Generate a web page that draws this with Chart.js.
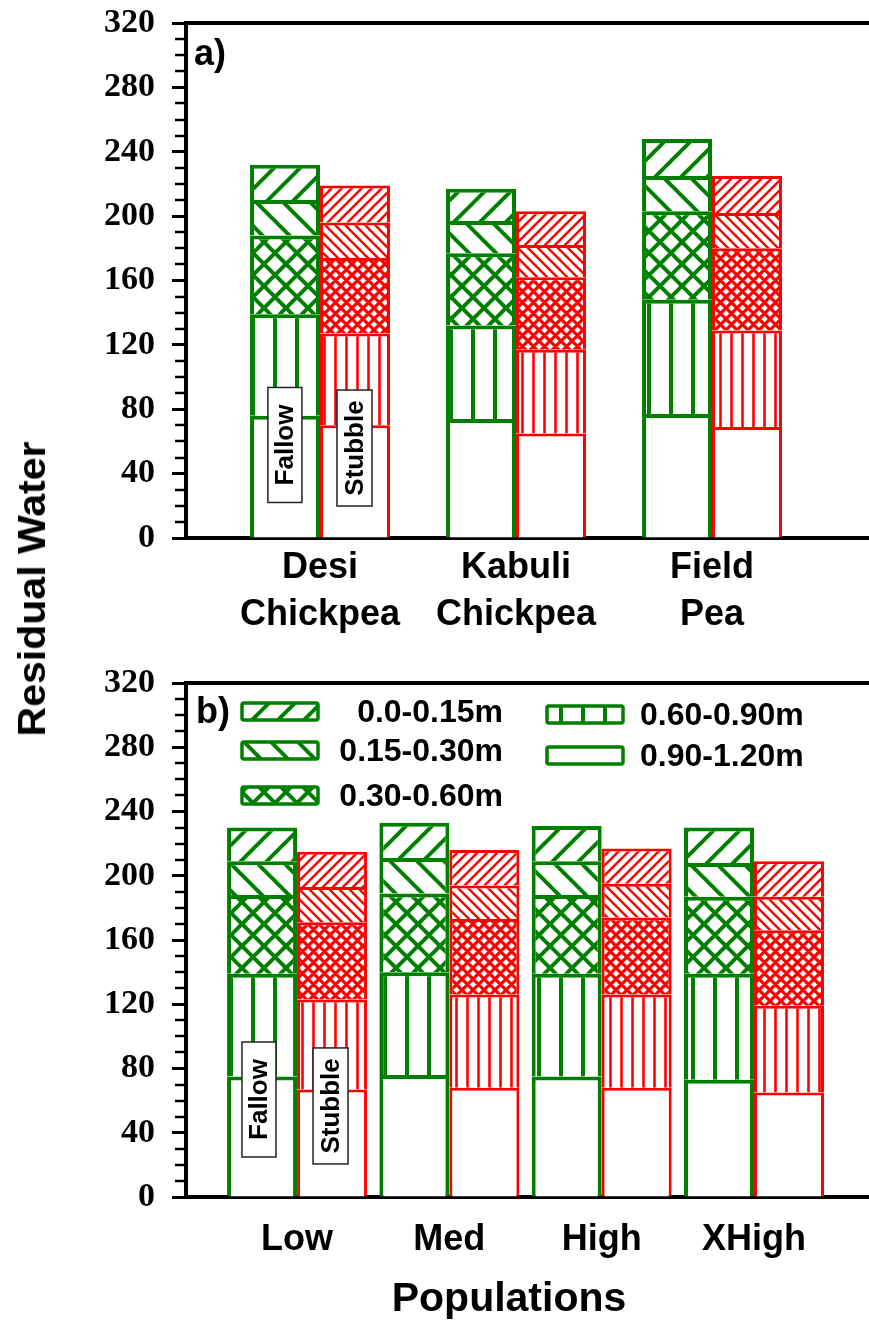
<!DOCTYPE html>
<html><head><meta charset="utf-8">
<script src="https://cdn.jsdelivr.net/npm/chart.js@4.4.1/dist/chart.umd.min.js"></script>
<style>
html,body{margin:0;padding:0;background:#fff;}
#wrap{position:relative;width:869px;height:1323px;overflow:hidden;background:#fff;}
#ca{position:absolute;left:0;top:0;}
#cb{position:absolute;left:0;top:660px;}
#ytitle{position:absolute;left:32px;top:589px;transform:translate(-50%,-50%) rotate(-90deg) scaleX(1.08);
  font:bold 38px "Liberation Sans", Arial, sans-serif;line-height:1;white-space:nowrap;color:#000;}
</style></head>
<body><div id="wrap">
<canvas id="ca" width="869" height="660"></canvas>
<canvas id="cb" width="869" height="663"></canvas>
<div id="ytitle">Residual Water</div>
</div>
<script>
// ---------- data ----------
const layerNames = ['0.90-1.20m','0.60-0.90m','0.30-0.60m','0.15-0.30m','0.0-0.15m']; // bottom -> top
const treatments = ['Fallow','Stubble'];
const cropNames = [['Desi','Chickpea'],['Kabuli','Chickpea'],['Field','Pea']];
const popNames = ['Low','Med','High','XHigh'];
const yTickValues = [0,40,80,120,160,200,240,280,320];
// residual water per soil layer (bottom -> top), one row per category
const cropFallow  = [[76,63,49,22,22],[74,58,45,20,20],[77,71,55,22,23]];
const cropStubble = [[70,57,47,22,23],[65,52,45,20,21],[69,60,51,22,23]];
const popFallow   = [[75,64,49,21,21],[76,64,49,22,22],[75,64,49,21,22],[73,66,48,21,22]];
const popStubble  = [[67,56,48,22,22],[68,58,47,21,22],[68,58,48,21,22],[65,54,47,21,22]];

// ---------- styles ----------
const SANS = '"Liberation Sans", Arial, sans-serif';
const SERIF = '"Liberation Serif", "Times New Roman", serif';
const layerKinds = ['plain','vert','cross','back','fwd'];
function makePattern(ctx, kind, color, s, lw) {
  if (kind === 'plain') return '#ffffff';
  const c = document.createElement('canvas'); c.width = s; c.height = s;
  const g = c.getContext('2d');
  g.fillStyle = '#fff'; g.fillRect(0, 0, s, s);
  g.strokeStyle = color; g.lineWidth = lw;
  g.beginPath();
  if (kind === 'fwd' || kind === 'cross') for (let k = -1; k <= 1; k++) { g.moveTo(k*s - 2, s + 2); g.lineTo(k*s + s + 2, -2); }
  if (kind === 'back' || kind === 'cross') for (let k = -1; k <= 1; k++) { g.moveTo(k*s - 2, -2); g.lineTo(k*s + s + 2, s + 2); }
  if (kind === 'vert') { g.moveTo(s/2, -1); g.lineTo(s/2, s + 1); }
  g.stroke();
  return ctx.createPattern(c, 'repeat');
}
function styleSet(ctx, color, bw, spec) {
  return { color, bw, patterns: layerKinds.map((k, i) => makePattern(ctx, k, color, spec[i][0], spec[i][1])) };
}
const greenSpec = [[1,1],[22,4],[22,4],[27,4],[26,4]];
const redSpec   = [[1,1],[11,2.6],[11,3.2],[10,2.4],[10,2.4]];

function buildDatasets(ctx, fallow, stubble) {
  const green = styleSet(ctx, '#008000', 4, greenSpec);
  const red = styleSet(ctx, '#ff0000', 3, redSpec);
  const out = [];
  [fallow, stubble].forEach((tbl, t) => {
    const st = t === 0 ? green : red;
    layerNames.forEach((name, li) => {
      out.push({
        label: name, stack: treatments[t], treatment: treatments[t], layerIndex: li,
        data: tbl.map((row, ci) => ({ x: ci + 1, y: row[li] })),
        backgroundColor: st.patterns[li], borderColor: st.color,
        borderWidth: st.bw, borderSkipped: 'start'
      });
    });
  });
  return out;
}

// ---------- decoration plugin ----------
const decor = {
  id: 'decor',
  afterDraw(chart, args, o) {
    const { ctx, chartArea: a, scales: { x, y } } = chart;
    ctx.save();
    ctx.strokeStyle = '#000';
    ctx.lineWidth = 4;
    ctx.beginPath(); ctx.moveTo(a.left - 2, a.top); ctx.lineTo(a.right, a.top); ctx.stroke();
    // minor ticks
    ctx.lineWidth = 2.5;
    const step = (yTickValues[1] - yTickValues[0]) / 4;
    for (let v = y.min; v <= y.max; v += step) {
      if (yTickValues.includes(v)) continue;
      const py = Math.round(y.getPixelForValue(v));
      ctx.beginPath(); ctx.moveTo(a.left - 11, py); ctx.lineTo(a.left, py); ctx.stroke();
    }
    // panel letter
    ctx.fillStyle = '#000';
    ctx.font = 'bold 36px ' + SANS;
    ctx.textAlign = 'left'; ctx.textBaseline = 'middle';
    ctx.fillText(o.panel, o.panelX, o.panelY);
    // treatment tags
    (o.tags || []).forEach(t => {
      const cx = x.getPixelForValue(t.x), cy = y.getPixelForValue(t.y);
      ctx.fillStyle = '#fff'; ctx.strokeStyle = '#222'; ctx.lineWidth = 1.5;
      ctx.fillRect(cx - t.w/2, cy - t.h/2, t.w, t.h);
      ctx.strokeRect(cx - t.w/2, cy - t.h/2, t.w, t.h);
      ctx.save(); ctx.translate(cx, cy); ctx.rotate(-Math.PI/2);
      ctx.fillStyle = '#000'; ctx.font = 'bold 26px ' + SANS;
      ctx.textAlign = 'center'; ctx.textBaseline = 'middle';
      ctx.fillText(t.text, 0, 1);
      ctx.restore();
    });
    // legend
    if (o.legend) {
      const fallowSets = chart.data.datasets.filter(d => d.treatment === 'Fallow');
      o.legend.forEach(it => {
        const ds = fallowSets.find(d => d.label === it.label);
        ctx.save();
        ctx.beginPath(); ctx.roundRect(it.sx, it.sy, 76, 17, 2);
        ctx.fillStyle = ds.backgroundColor; ctx.fill();
        ctx.strokeStyle = ds.borderColor; ctx.lineWidth = 3.5; ctx.stroke();
        ctx.restore();
        ctx.fillStyle = '#000'; ctx.font = 'bold 32px ' + SANS;
        ctx.textAlign = it.align; ctx.textBaseline = 'middle';
        ctx.fillText(ds.label, it.tx, it.sy + 10);
      });
    }
    if (o.xTitle) {
      ctx.fillStyle = '#000'; ctx.font = 'bold 41px ' + SANS;
      ctx.textAlign = 'center'; ctx.textBaseline = 'middle';
      ctx.fillText(o.xTitle, o.xTitleX, o.xTitleY);
    }
    ctx.restore();
  }
};

function makeChart(canvas, cats, fallow, stubble, xr, catPct, xAxisH, labelPad, decorOpts) {
  const ctx = canvas.getContext('2d');
  return new Chart(ctx, {
    type: 'bar',
    data: { datasets: buildDatasets(ctx, fallow, stubble) },
    options: {
      responsive: false, animation: false, devicePixelRatio: 1,
      categoryPercentage: catPct, barPercentage: 1,
      layout: { padding: { top: 23, right: 0, bottom: 0, left: 0 } },
      plugins: { legend: { display: false }, tooltip: { enabled: false }, decor: decorOpts },
      scales: {
        x: {
          type: 'linear', min: xr[0], max: xr[1], offset: false, z: 1,
          grid: { display: false, drawTicks: false },
          border: { display: true, color: '#000', width: 4 },
          afterBuildTicks: s => { s.ticks = cats.map((_, i) => ({ value: i + 1 })); },
          ticks: {
            callback: v => cats[Math.round(v) - 1],
            font: { family: SANS, size: 36, weight: 'bold', lineHeight: 1.3 },
            color: '#000', padding: labelPad, autoSkip: false, maxRotation: 0, minRotation: 0
          },
          afterFit: s => { s.height = xAxisH; s.paddingLeft = 0; s.paddingRight = 0; }
        },
        y: {
          min: 0, max: 320, stacked: true,
          afterBuildTicks: s => { s.ticks = yTickValues.map(v => ({ value: v })); },
          ticks: { font: { family: SERIF, size: 34, weight: 'bold' }, color: '#000', padding: 17 },
          grid: { drawOnChartArea: false, drawTicks: true, tickLength: 14, tickWidth: 3, tickColor: '#000', color: '#000' },
          border: { display: true, color: '#000', width: 4 },
          afterFit: s => { s.width = 186; s.paddingTop = 0; s.paddingBottom = 0; }
        }
      }
    },
    plugins: [decor]
  });
}

makeChart(document.getElementById('ca'), cropNames, cropFallow, cropStubble,
  [0.3163, 3.801], 0.714, 122, 7, {
    panel: 'a)', panelX: 194, panelY: 55,
    tags: [
      { text: 'Fallow', x: 0.821, y: 57.8, w: 34, h: 115 },
      { text: 'Stubble', x: 1.176, y: 55.9, w: 35, h: 116 }
    ]
  });

makeChart(document.getElementById('cb'), popNames, popFallow, popStubble,
  [0.271, 4.755], 0.919, 126, 20, {
    panel: 'b)', panelX: 196, panelY: 53,
    tags: [
      { text: 'Fallow', x: 0.750, y: 60.7, w: 34, h: 115 },
      { text: 'Stubble', x: 1.220, y: 56.7, w: 35, h: 116 }
    ],
    legend: [
      { label: '0.0-0.15m', sx: 242, sy: 43, tx: 503, align: 'right' },
      { label: '0.15-0.30m', sx: 242, sy: 82, tx: 503, align: 'right' },
      { label: '0.30-0.60m', sx: 242, sy: 127, tx: 503, align: 'right' },
      { label: '0.60-0.90m', sx: 547, sy: 46, tx: 640, align: 'left' },
      { label: '0.90-1.20m', sx: 547, sy: 87, tx: 640, align: 'left' }
    ],
    xTitle: 'Populations', xTitleX: 509, xTitleY: 640
  });
</script>
</body></html>
